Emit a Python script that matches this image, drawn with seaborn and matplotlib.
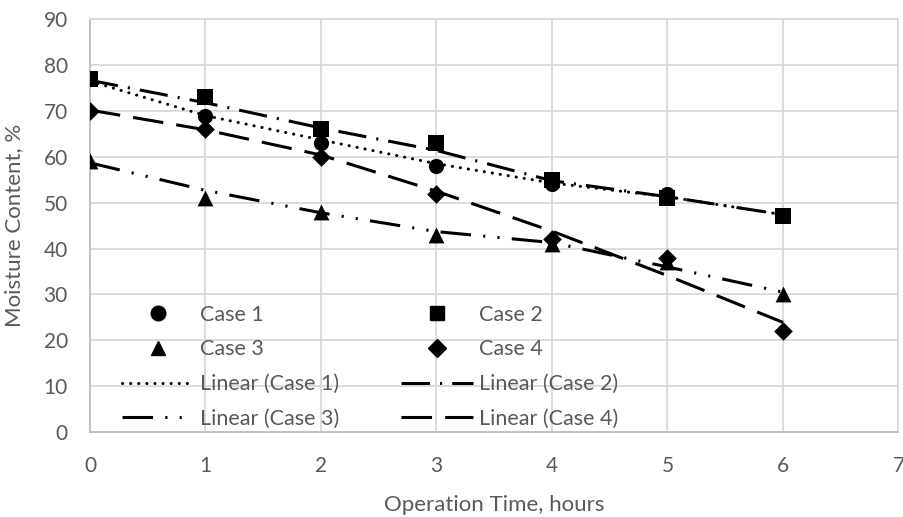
import numpy as np
import pandas as pd
import seaborn as sns
import matplotlib
matplotlib.use("Agg")
import matplotlib.pyplot as plt
from matplotlib.lines import Line2D

hours = [0, 1, 2, 3, 4, 5, 6]
case1 = [77, 69, 63, 58, 54, 52, 47]
case2 = [77, 73, 66, 63, 55, 51, 47]
case3 = [59, 51, 48, 43, 41, 37, 30]
case4 = [70, 66, 60, 52, 42, 38, 22]
# "Linear" trend lines as drawn in the reference (values read at each hour)
trend1 = [76.5, 69.0, 63.7, 58.5, 54.3, 51.3, 47.4]
trend2 = [76.7, 71.8, 66.3, 61.4, 54.8, 51.3, 47.4]
trend3 = [58.7, 52.7, 47.8, 43.7, 41.3, 36.0, 30.5]
trend4 = [70.2, 65.9, 60.4, 52.5, 43.8, 34.1, 23.9]
case_names = ["Case 1", "Case 2", "Case 3", "Case 4"]

sns.set_theme(style="white")
plt.rcParams['font.family'] = ['Lato', 'DejaVu Sans']
gray = "#595959"
FS = 15

fig = plt.figure(figsize=(9.04, 5.17), dpi=100)
ax = fig.add_axes([90 / 904, 1 - 432 / 517, 808.5 / 904, 412.7 / 517])

series = [case1, case2, case3, case4]
trends = [trend1, trend2, trend3, trend4]
markers = ['o', 's', '^', 'D']
msizes = [120, 120, 130, 90]
lw = 2.2
styles = [(0, (0.05, 2.6)), (0, (9.3, 3.3, 0.7, 3.3)),
          (0, (10, 4, 0.7, 4, 0.7, 4)), (0, (10, 4.3))]
caps = ["round", "butt", "butt", "butt"]

scatter_handles = []
line_handles = []
for name, vals, tr, m, s, ls, cap in zip(case_names, series, trends, markers, msizes, styles, caps):
    df = pd.DataFrame({"x": hours, "y": vals})
    sns.scatterplot(data=df, x="x", y="y", marker=m, s=s, color="black",
                    edgecolor="black", linewidth=0, ax=ax, zorder=3)
    tdf = pd.DataFrame({"x": hours, "y": tr})
    sns.lineplot(data=tdf, x="x", y="y", color="black", linewidth=lw,
                 linestyle=ls, ax=ax, zorder=2, dash_capstyle=cap)
    scatter_handles.append(Line2D([], [], marker=m, color="black", linestyle="none",
                                  markersize=10.5 if m != 'D' else 9, label=name))
    line_handles.append(Line2D([], [], color="black", linewidth=lw, linestyle=ls,
                               dash_capstyle=cap, label=f"Linear ({name})"))

ax.set_xlim(0, 7)
ax.set_ylim(0, 90)
ax.set_xticks(range(0, 8))
ax.set_yticks(range(0, 100, 10))
ax.grid(True, color="#d9d9d9", linewidth=1.3)
ax.set_axisbelow(True)
for sp in ax.spines.values():
    sp.set_color("#d9d9d9")
    sp.set_linewidth(1.3)
ax.spines['left'].set_color("#bfbfbf")
ax.spines['bottom'].set_color("#bfbfbf")
ax.tick_params(axis='x', length=0, labelsize=FS, colors=gray, pad=17)
ax.tick_params(axis='y', length=0, labelsize=FS, colors=gray, pad=16)
ax.set_xlabel("Operation Time, hours", fontsize=FS + 1, color=gray, labelpad=14)
ax.set_ylabel("Moisture Content, %", fontsize=FS + 1, color=gray, labelpad=14)

h = scatter_handles
l = line_handles
order = [h[0], h[2], l[0], l[2], h[1], h[3], l[1], l[3]]
leg = ax.legend(handles=order, ncol=2, loc="lower left",
                bbox_to_anchor=(118 / 904, 1 - 433 / 517), bbox_transform=fig.transFigure,
                frameon=False, fontsize=FS + 0.5, handlelength=3.3, handletextpad=0.3,
                columnspacing=2.9, labelspacing=0.68, borderpad=0.2, borderaxespad=0)
for t in leg.get_texts():
    t.set_color(gray)

fig.savefig("out.png", dpi=100)
